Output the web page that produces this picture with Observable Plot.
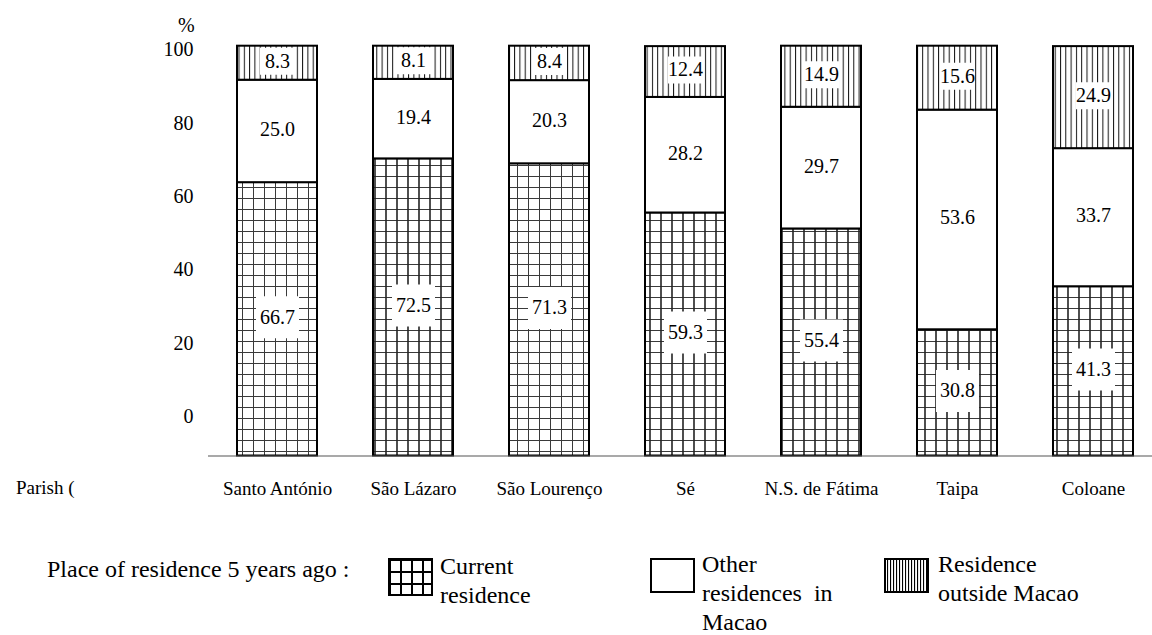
<!DOCTYPE html>
<html><head><meta charset="utf-8">
<script src="https://cdn.jsdelivr.net/npm/d3@7"></script>
<script src="https://cdn.jsdelivr.net/npm/@observablehq/plot@0.6"></script>
<style>
body{margin:0;background:#fff;font-family:"Liberation Serif","Times New Roman",Times,"DejaVu Serif",serif;color:#000}
#wrap{position:relative;width:1152px;height:635px;overflow:hidden}
.abs{position:absolute;white-space:pre;line-height:29px;font-size:24px}
.sw{position:absolute}
</style></head><body>
<svg width="0" height="0" style="position:absolute">
<defs>
<pattern id="gridA" width="11" height="11" patternUnits="userSpaceOnUse">
<rect width="11" height="11" fill="#fff"/><path d="M0.5 0V11M0 0.5H11" stroke="#3a3a3a" stroke-width="1"/></pattern>
<pattern id="gridB" width="11" height="11" patternUnits="userSpaceOnUse">
<rect width="11" height="11" fill="#fff"/><path d="M0 0.5H11" stroke="#3a3a3a" stroke-width="1"/><path d="M1 0V11" stroke="#222" stroke-width="1.6"/></pattern>
<pattern id="vlines" width="5.3" height="10" patternUnits="userSpaceOnUse">
<rect width="5.3" height="10" fill="#fff"/><path d="M0.5 0V10" stroke="#111" stroke-width="1"/></pattern>
<pattern id="lgGrid" width="11" height="12" patternUnits="userSpaceOnUse" x="1" y="1">
<rect width="11" height="12" fill="#fff"/><path d="M1 0V12M0 1H11" stroke="#000" stroke-width="2"/></pattern>
<pattern id="lgV" width="3" height="10" patternUnits="userSpaceOnUse">
<rect width="3" height="10" fill="#fff"/><path d="M0.5 0V10" stroke="#000" stroke-width="1.2"/></pattern>
</defs></svg>
<div id="wrap">
<div id="chart"></div>
<div class="abs" style="left:178px;top:14px;font-size:20px;line-height:23px">%</div>
<div class="abs" style="left:16px;top:476px;font-size:19px;line-height:23px">Parish (</div>
<div class="abs" style="left:47px;top:555px">Place of residence 5 years ago :</div>
<svg class="sw" style="left:388px;top:558px" width="45" height="38"><rect x="1" y="1" width="43" height="36" fill="url(#lgGrid)" stroke="#000" stroke-width="2"/></svg>
<div class="abs" style="left:440px;top:552px">Current
residence</div>
<svg class="sw" style="left:650px;top:558px" width="45" height="35"><rect x="1" y="1" width="43" height="33" fill="#fff" stroke="#000" stroke-width="2"/></svg>
<div class="abs" style="left:702px;top:550px">Other
residences  in
Macao</div>
<svg class="sw" style="left:884px;top:558px" width="45" height="35"><rect x="1" y="1" width="43" height="33" fill="url(#lgV)" stroke="#000" stroke-width="2"/></svg>
<div class="abs" style="left:938px;top:550px">Residence
outside Macao</div>
</div>
<script>
const parishes = ["Santo António","São Lázaro","São Lourenço","Sé","N.S. de Fátima","Taipa","Coloane"];
const current = [66.7,72.5,71.3,59.3,55.4,30.8,41.3];
const other = [25.0,19.4,20.3,28.2,29.7,53.6,33.7];
const outside = [8.3,8.1,8.4,12.4,14.9,15.6,24.9];
const tickLabels = [0,20,40,60,80,100];
const seriesNames = ["Current residence","Other residences in Macao","Residence outside Macao"];

// styles (not data): which bars show the bolder grid rendering
const boldGrid = new Set(["São Lázaro","Sé","N.S. de Fátima","Taipa","Coloane"]);

const rows = [];
parishes.forEach((p, i) => {
  let base = 0;
  [current[i], other[i], outside[i]].forEach((v, s) => {
    rows.push({parish: p, series: seriesNames[s], s, value: v, y1: base, y2: base + v, mid: base + v / 2});
    base += v;
  });
});

// the reference's value axis labels are offset from the bar scale
const tickPos = tickLabels.map(v => (39.5 + 3.665 * v) / 4.098);
const labelAt = new Map(tickPos.map((p, i) => [p, String(tickLabels[i])]));

const boxSym = (w, h) => ({draw(ctx) { ctx.rect(-w / 2, -h / 2, w, h); }});

const FONT = '"Liberation Serif","Times New Roman",Times,"DejaVu Serif",serif';
const barOpts = {x: "parish", y1: "y1", y2: "y2", stroke: "#000", strokeWidth: 2};
const chart = Plot.plot({
  width: 1152,
  height: 530,
  marginLeft: 208,
  marginRight: -10.5,
  marginTop: 45.7,
  marginBottom: 74.5,
  style: {fontFamily: FONT, fontSize: "20px", background: "white", color: "black"},
  x: {type: "band", domain: parishes, paddingInner: 0.413, paddingOuter: 0.205, label: null},
  y: {domain: [0, 100], label: null},
  marks: [
    Plot.barY(rows, {...barOpts, filter: d => d.s === 0 && !boldGrid.has(d.parish), fill: "url(#gridA)"}),
    Plot.barY(rows, {...barOpts, filter: d => d.s === 0 && boldGrid.has(d.parish), fill: "url(#gridB)"}),
    Plot.barY(rows, {...barOpts, filter: d => d.s === 1, fill: "white"}),
    Plot.barY(rows, {...barOpts, filter: d => d.s === 2, fill: "url(#vlines)"}),
    Plot.dot(rows, {filter: d => d.s === 0, x: "parish", y: "mid", dy: -2, symbol: boxSym(43, 42), fill: "white", stroke: "none"}),
    Plot.dot(rows, {filter: d => d.s === 2, x: "parish", y: "mid", dy: -2, symbol: boxSym(35, 27), fill: "white", stroke: "none"}),
    Plot.text(rows, {x: "parish", y: "mid", dy: -2, text: d => d.value.toFixed(1), fontSize: 20, fill: "black"}),
    Plot.ruleY([0], {stroke: "#555", strokeWidth: 1.2}),
    Plot.axisY(tickPos, {tickSize: 0, tickPadding: 15, tickFormat: d => labelAt.get(d), fontSize: 20, line: true, stroke: "#555", label: null}),
    Plot.axisX({tickSize: 0, tickPadding: 25, fontSize: 19, label: null})
  ]
});
document.getElementById("chart").appendChild(chart);
</script>
</body></html>
